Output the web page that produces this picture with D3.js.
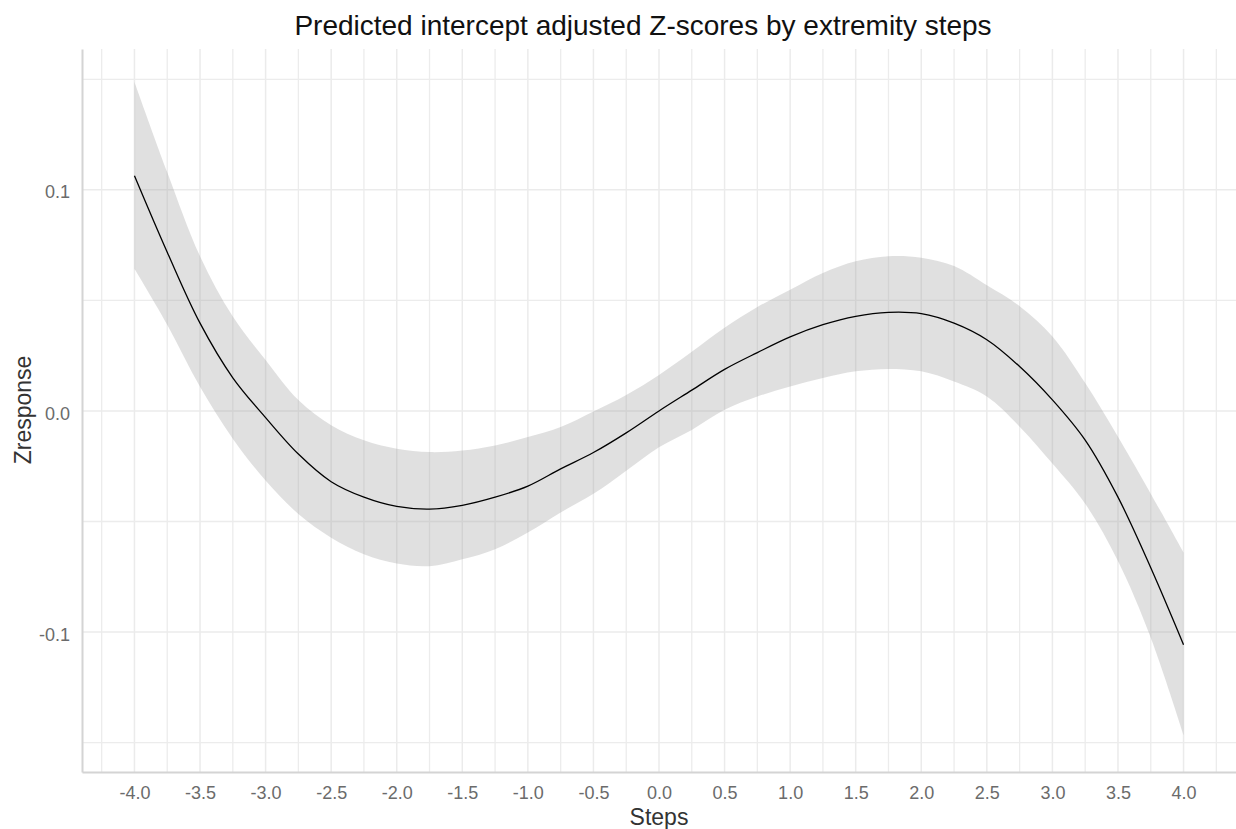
<!DOCTYPE html>
<html>
<head>
<meta charset="utf-8">
<script src="https://cdn.jsdelivr.net/npm/d3@7"></script>
<style>
  body { margin: 0; background: #fff; }
  text { font-family: "Liberation Sans", Arial, sans-serif; }
</style>
</head>
<body>
<div id="chart"></div>
<script>
// values
var steps  = [-4.00, -3.75, -3.50, -3.25, -3.00, -2.75, -2.50, -2.25, -2.00, -1.75, -1.50, -1.25, -1.00, -0.75, -0.50, -0.25,
               0.00,  0.25,  0.50,  0.75,  1.00,  1.25,  1.50,  1.75,  2.00,  2.25,  2.50,  2.75,  3.00,  3.25,  3.50,  3.75, 4.00];
var fitZ   = [0.1064, 0.0718, 0.0397, 0.0150, -0.0030, -0.0195, -0.0320, -0.0390, -0.0432, -0.0444, -0.0427, -0.0390, -0.0340, -0.0262, -0.0188, -0.0099,
              0.0000, 0.0094, 0.0188, 0.0264, 0.0335, 0.0390, 0.0428, 0.0446, 0.0440, 0.0397, 0.0322, 0.0201, 0.0050, -0.0132, -0.0390, -0.0709, -0.1057];
var upperZ = [0.1488, 0.1080, 0.0700, 0.0427, 0.0230, 0.0049, -0.0065, -0.0133, -0.0171, -0.0186, -0.0179, -0.0156, -0.0118, -0.0073, -0.0003, 0.0072,
              0.0163, 0.0268, 0.0376, 0.0470, 0.0548, 0.0624, 0.0677, 0.0700, 0.0693, 0.0655, 0.0568, 0.0474, 0.0337, 0.0126, -0.0117, -0.0374, -0.0640];
var lowerZ = [0.0643, 0.0390, 0.0109, -0.0126, -0.0315, -0.0466, -0.0573, -0.0648, -0.0690, -0.0702, -0.0671, -0.0625, -0.0550, -0.0459, -0.0375, -0.0270,
              -0.0164, -0.0086, 0.0005, 0.0065, 0.0110, 0.0149, 0.0179, 0.0190, 0.0179, 0.0133, 0.0065, -0.0071, -0.0238, -0.0420, -0.0679, -0.1026, -0.1466];

// breaks (major and minor grid)
var xBreaks = [-4.0, -3.5, -3.0, -2.5, -2.0, -1.5, -1.0, -0.5, 0.0, 0.5, 1.0, 1.5, 2.0, 2.5, 3.0, 3.5, 4.0];
var xMinor  = [-4.25, -3.75, -3.25, -2.75, -2.25, -1.75, -1.25, -0.75, -0.25, 0.25, 0.75, 1.25, 1.75, 2.25, 2.75, 3.25, 3.75, 4.25];
var yBreaks = [-0.1, 0.0, 0.1];
var yMinor  = [-0.15, -0.05, 0.05, 0.15];

var svgWidth = 1236;
var svgHeight = 829;

var svg = d3.select("#chart")
    .append("svg")
    .attr("width", svgWidth)
    .attr("height", svgHeight);

// panel box in pixels
var panel = { left: 82, right: 1236, top: 49, bottom: 772 };

var x = d3.scaleLinear()
    .domain([-4.4, 4.4])
    .range([panel.left, panel.right]);

var y = d3.scaleLinear()
    .domain([-0.1633, 0.1637])
    .range([panel.bottom, panel.top]);

var rows = steps.map((s, i) => ({ s: s, fit: fitZ[i], lo: lowerZ[i], hi: upperZ[i] }));

// grid lines
var grid = svg.append("g");
grid.selectAll(".vminor").data(xMinor).enter().append("line")
    .attr("x1", d => x(d)).attr("x2", d => x(d))
    .attr("y1", panel.top).attr("y2", panel.bottom)
    .attr("stroke", "#ececec").attr("stroke-width", 1.3);
grid.selectAll(".vmajor").data(xBreaks).enter().append("line")
    .attr("x1", d => x(d)).attr("x2", d => x(d))
    .attr("y1", panel.top).attr("y2", panel.bottom)
    .attr("stroke", "#ebebeb").attr("stroke-width", 1.5);
grid.selectAll(".hminor").data(yMinor).enter().append("line")
    .attr("x1", panel.left).attr("x2", panel.right)
    .attr("y1", d => y(d)).attr("y2", d => y(d))
    .attr("stroke", "#ececec").attr("stroke-width", 1.3);
grid.selectAll(".hmajor").data(yBreaks).enter().append("line")
    .attr("x1", panel.left).attr("x2", panel.right)
    .attr("y1", d => y(d)).attr("y2", d => y(d))
    .attr("stroke", "#ebebeb").attr("stroke-width", 1.5);

// confidence ribbon
var band = d3.area()
    .x(d => x(d.s))
    .y0(d => y(d.lo))
    .y1(d => y(d.hi))
    .curve(d3.curveCatmullRom);

svg.append("path")
    .datum(rows)
    .attr("d", band)
    .attr("fill", "#999999")
    .attr("fill-opacity", 0.3);

// fitted line
var line = d3.line()
    .x(d => x(d.s))
    .y(d => y(d.fit))
    .curve(d3.curveCatmullRom);

svg.append("path")
    .datum(rows)
    .attr("d", line)
    .attr("fill", "none")
    .attr("stroke", "#000")
    .attr("stroke-width", 1.3);

// axes
var fmt = d => d.toFixed(1);

var xAxis = svg.append("g")
    .attr("transform", `translate(0, ${panel.bottom})`)
    .call(d3.axisBottom(x).tickValues(xBreaks).tickFormat(fmt).tickSize(0).tickPadding(14));

var yAxis = svg.append("g")
    .attr("transform", `translate(${panel.left}, 0)`)
    .call(d3.axisLeft(y).tickValues(yBreaks).tickFormat(fmt).tickSize(0).tickPadding(12));

[xAxis, yAxis].forEach(function(g) {
    g.select(".domain").attr("stroke", "#d4d4d4").attr("stroke-width", 2);
    g.selectAll("text")
        .attr("fill", "#6b6b6b")
        .style("font-size", "18px")
        .style("font-family", "'Liberation Sans', Arial, sans-serif");
});
yAxis.selectAll("text").attr("dy", "0.45em");

// titles
svg.append("text")
    .attr("x", 643)
    .attr("y", 35)
    .attr("text-anchor", "middle")
    .attr("fill", "#111")
    .style("font-size", "28px")
    .text("Predicted intercept adjusted Z-scores by extremity steps");

svg.append("text")
    .attr("x", 659)
    .attr("y", 825)
    .attr("text-anchor", "middle")
    .attr("fill", "#333")
    .style("font-size", "23px")
    .text("Steps");

svg.append("text")
    .attr("transform", "translate(31, 410) rotate(-90)")
    .attr("text-anchor", "middle")
    .attr("fill", "#333")
    .style("font-size", "23px")
    .text("Zresponse");
</script>
</body>
</html>
